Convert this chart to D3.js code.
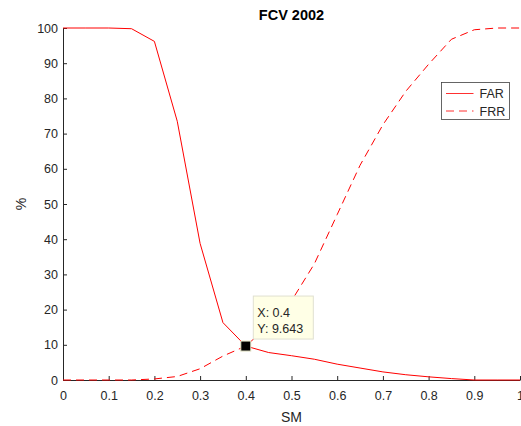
<!DOCTYPE html>
<html>
<head>
<meta charset="utf-8">
<script src="https://cdn.jsdelivr.net/npm/d3@7"></script>
<style>
  body { margin: 0; background: #fff; }
  svg { display: block; font-family: "Liberation Sans", Arial, sans-serif; }
  .axis path, .axis line { stroke: #262626; }
  .axis text { fill: #262626; font-size: 12.5px; }
</style>
</head>
<body>
<div id="chart"></div>
<script>
// data (SM threshold vs error rate, %)
const sm = [0, 0.05, 0.1, 0.15, 0.2, 0.25, 0.3, 0.35, 0.4, 0.45, 0.5,
            0.55, 0.6, 0.65, 0.7, 0.75, 0.8, 0.85, 0.9, 0.95, 1];
const far = [100, 100, 100, 99.8, 96.2, 73.5, 38.8, 16.3, 9.643, 7.8, 6.9,
             5.9, 4.5, 3.4, 2.3, 1.5, 0.9, 0.4, 0, 0, 0];
const frr = [0, 0, 0, 0, 0.3, 1.0, 3.2, 6.8, 9.643, 15.5, 22.5,
             33, 47, 61, 72.5, 82, 89.7, 96.8, 99.5, 100, 100];
const xTicks = [0, 0.1, 0.2, 0.3, 0.4, 0.5, 0.6, 0.7, 0.8, 0.9, 1];
const yTicks = [0, 10, 20, 30, 40, 50, 60, 70, 80, 90, 100];
const seriesNames = ["FAR", "FRR"];
const tip = { x: 0.4, y: 9.643 };

const W = 521, H = 426;
const margin = { top: 28, right: 1, bottom: 46, left: 63 };
const width = W - margin.left - margin.right;
const height = H - margin.top - margin.bottom;

const svg = d3.select("#chart").append("svg")
  .attr("width", W).attr("height", H);
const g = svg.append("g")
  .attr("transform", `translate(${margin.left},${margin.top})`);

const x = d3.scaleLinear().domain([0, 1]).range([0, width]);
const y = d3.scaleLinear().domain([0, 100]).range([height, 0]);

// axes, ticks pointing inward like MATLAB
g.append("g").attr("class", "axis")
  .attr("transform", `translate(0,${height})`)
  .call(d3.axisBottom(x).tickValues(xTicks).tickFormat(d3.format("")).tickSize(-4).tickSizeOuter(0).tickPadding(11));
g.append("g").attr("class", "axis")
  .call(d3.axisLeft(y).tickValues(yTicks).tickSize(-4).tickSizeOuter(0).tickPadding(5));

const line = d3.line().x(d => x(d[0])).y(d => y(d[1]));
const farData = sm.map((s, i) => [s, far[i]]);
const frrData = sm.map((s, i) => [s, frr[i]]);

g.append("path").datum(frrData)
  .attr("fill", "none").attr("stroke", "#ff0000").attr("stroke-width", 1)
  .attr("stroke-dasharray", "8,5").attr("d", line);
g.append("path").datum(farData)
  .attr("fill", "none").attr("stroke", "#ff0000").attr("stroke-width", 1)
  .attr("d", line);

// data tip
g.append("rect")
  .attr("x", x(tip.x) - 5).attr("y", y(tip.y) - 5)
  .attr("width", 10).attr("height", 10)
  .attr("fill", "#000").attr("stroke", "#e6e6c8").attr("stroke-width", 1);
const tipG = g.append("g")
  .attr("transform", `translate(${x(tip.x) + 7.5},${y(tip.y) - 50})`);
tipG.append("rect")
  .attr("width", 60).attr("height", 43)
  .attr("fill", "#ffffe6").attr("stroke", "#e0e0d0");
tipG.append("text").attr("x", 4).attr("y", 21)
  .attr("font-size", 12.5).attr("fill", "#262626").text(`X: ${tip.x}`);
tipG.append("text").attr("x", 4).attr("y", 36.5)
  .attr("font-size", 12.5).attr("fill", "#262626").text(`Y: ${tip.y}`);

// legend
const leg = svg.append("g").attr("transform", "translate(441.5,82.5)");
leg.append("rect").attr("width", 68).attr("height", 37)
  .attr("fill", "#fff").attr("stroke", "#404040").attr("stroke-width", 0.8);
seriesNames.forEach((name, i) => {
  const yy = 11 + i * 17.5;
  leg.append("line").attr("x1", 4.5).attr("x2", 32).attr("y1", yy).attr("y2", yy)
    .attr("stroke", "#ff3030").attr("stroke-width", 1)
    .attr("stroke-dasharray", i === 1 ? "8,5" : null);
  leg.append("text").attr("x", 38).attr("y", yy + 4.5)
    .attr("font-size", 12.5).attr("fill", "#262626").text(name);
});

// title and axis labels
svg.append("text").attr("x", margin.left + width / 2).attr("y", 20)
  .attr("text-anchor", "middle").attr("font-size", 14.5).attr("font-weight", "bold")
  .attr("fill", "#000").text("FCV 2002");
svg.append("text").attr("x", margin.left + width / 2).attr("y", 421.5)
  .attr("text-anchor", "middle").attr("font-size", 14).attr("fill", "#262626").text("SM");
svg.append("text")
  .attr("transform", `translate(26,${margin.top + height / 2}) rotate(-90)`)
  .attr("text-anchor", "middle").attr("font-size", 14).attr("fill", "#262626").text("%");
</script>
</body>
</html>
